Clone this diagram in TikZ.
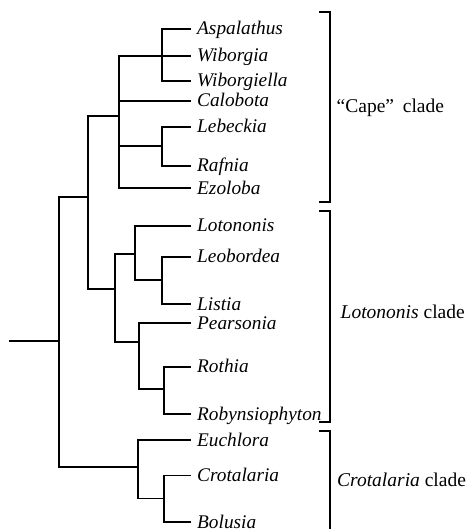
\documentclass[tikz,border=0pt]{standalone}
\usepackage{fontspec}
\setmainfont{Liberation Serif}
\begin{document}
\begin{tikzpicture}[x=1pt, y=-1pt,
  branch/.style={line width=1.9pt, line cap=rect},
  bracketline/.style={line width=2pt},
  leaf/.style={anchor=base west, inner sep=0pt, font=\fontsize{19.3}{22}\selectfont\itshape},
  cladelabel/.style={anchor=base west, inner sep=0pt, font=\fontsize{19.5}{23}\selectfont}]
\useasboundingbox (0,0) rectangle (470,529);

% leaf tips
\coordinate (tAsp) at (190,29);
\coordinate (tWib) at (190,55.7);
\coordinate (tWbl) at (190,81);
\coordinate (tCal) at (190,101.2);
\coordinate (tLeb) at (190,126.7);
\coordinate (tRaf) at (190,166);
\coordinate (tEzo) at (190,188.3);
\coordinate (tLot) at (190,225.7);
\coordinate (tLeo) at (190,256.7);
\coordinate (tLis) at (190,304.3);
\coordinate (tPea) at (190,323.3);
\coordinate (tRot) at (190,366.7);
\coordinate (tRob) at (190,414);
\coordinate (tEuc) at (190,440);
\coordinate (tCro) at (190,475.5);
\coordinate (tBol) at (190,522);

% leaf names
\node[leaf] (Asp) at (197,35) {Aspalathus};
\node[leaf] (Wib) at (197,61.7) {Wiborgia};
\node[leaf] (Wbl) at (197,87) {Wiborgiella};
\node[leaf] (Cal) at (197,106.9) {Calobota};
\node[leaf] (Leb) at (197,132.7) {Lebeckia};
\node[leaf] (Raf) at (197,172) {Rafnia};
\node[leaf] (Ezo) at (197,194.3) {Ezoloba};
\node[leaf] (Lot) at (197,231.7) {Lotononis};
\node[leaf] (Leo) at (197,262.7) {Leobordea};
\node[leaf] (Lis) at (197,310.3) {Listia};
\node[leaf] (Pea) at (197,329.3) {Pearsonia};
\node[leaf] (Rot) at (197,372.7) {Rothia};
\node[leaf] (Rob) at (197,420) {Robynsiophyton};
\node[leaf] (Euc) at (197,446) {Euchlora};
\node[leaf] (Cro) at (197,481.7) {Crotalaria};
\node[leaf] (Bol) at (197,528) {Bolusia};

% internal nodes
\coordinate (stem) at (10,340.7);
\coordinate (root) at (59,340.7);
\coordinate (nCL)  at (88,196.7);
\coordinate (nCape) at (119,115.7);
\coordinate (nWib) at (162,55.7);
\coordinate (nLR)  at (162,146.3);
\coordinate (nLoti) at (115,289);
\coordinate (nLLL) at (135,254);
\coordinate (nLL)  at (162,280);
\coordinate (nPR)  at (139,341.7);
\coordinate (nRR)  at (164,389.3);
\coordinate (nCr)  at (138,466.7);
\coordinate (nCB)  at (164,498.5);

% tree
\draw[branch] (stem) -- (root);
\draw[branch] (root) |- (nCL);
\draw[branch] (root) |- (nCr);
\draw[branch] (nCL) |- (nCape);
\draw[branch] (nCL) |- (nLoti);
\draw[branch] (nCape) |- (nWib);
\draw[branch] (nCape) |- (tCal);
\draw[branch] (nCape) |- (nLR);
\draw[branch] (nCape) |- (tEzo);
\draw[branch] (nWib) |- (tAsp);
\draw[branch] (nWib) |- (tWib);
\draw[branch] (nWib) |- (tWbl);
\draw[branch] (nLR) |- (tLeb);
\draw[branch] (nLR) |- (tRaf);
\draw[branch] (nLoti) |- (nLLL);
\draw[branch] (nLoti) |- (nPR);
\draw[branch] (nLLL) |- (tLot);
\draw[branch] (nLLL) |- (nLL);
\draw[branch] (nLL) |- (tLeo);
\draw[branch] (nLL) |- (tLis);
\draw[branch] (nPR) |- (tPea);
\draw[branch] (nPR) |- (nRR);
\draw[branch] (nRR) |- (tRot);
\draw[branch] (nRR) |- (tRob);
\draw[branch] (nCr) |- (tEuc);
\draw[branch] (nCr) |- (nCB);
\draw[branch] (nCB) |- (tCro);
\draw[branch] (nCB) |- (tBol);

% clade brackets
\coordinate (capeTop) at (319,11.7);
\coordinate (capeBot) at (319,202.3);
\coordinate (lotTop) at (319,210.7);
\coordinate (lotBot) at (319,422.3);
\coordinate (croTop) at (319,430.7);
\coordinate (croBot) at (330,540);
\draw[bracketline] (capeTop) -- ++(11,0) |- (capeBot);
\draw[bracketline] (lotTop) -- ++(11,0) |- (lotBot);
\draw[bracketline] (croTop) -- ++(11,0) -- (croBot);

\node[cladelabel] (cape) at (336.5,113) {“Cape”\hspace{0.2em} clade};
\node[cladelabel] (loto) at (340.5,318) {\textit{Lotononis} clade};
\node[cladelabel] (crot) at (337,486) {\textit{Crotalaria} clade};
\end{tikzpicture}
\end{document}
